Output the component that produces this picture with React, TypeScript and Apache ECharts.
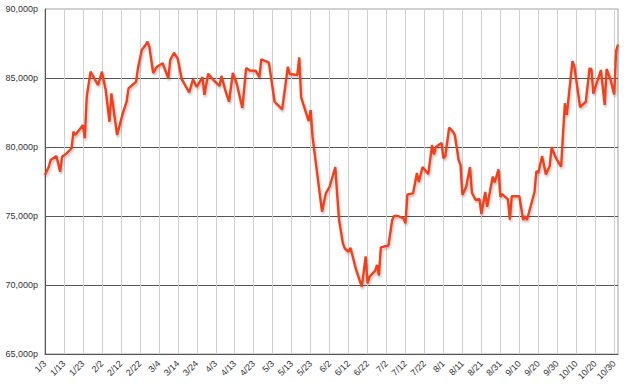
import React, { useEffect, useRef } from "react";
import * as echarts from "echarts";

// Trading dates (month/day) and prices, grouped by month
const dates: string[] = [
  "1/3", "1/5", "1/6", "1/9", "1/11", "1/12", "1/14", "1/17", "1/18", "1/19", "1/23", "1/24", "1/25", "1/27", "1/31",
  "2/2", "2/4", "2/6", "2/7", "2/10", "2/13", "2/15", "2/16", "2/20", "2/21", "2/23", "2/25", "2/26", "2/27",
  "3/1", "3/3", "3/6", "3/9", "3/10", "3/12", "3/14", "3/16", "3/20", "3/22", "3/24", "3/27", "3/28", "3/30",
  "4/2", "4/5", "4/6", "4/8", "4/10", "4/12", "4/14", "4/17", "4/19", "4/21", "4/24", "4/26", "4/27",
  "5/1", "5/4", "5/8", "5/11", "5/12", "5/16", "5/17", "5/18", "5/22", "5/23", "5/24", "5/29", "5/31",
  "6/2", "6/5", "6/6", "6/7", "6/9", "6/10", "6/12", "6/13", "6/16", "6/19", "6/21", "6/22", "6/23", "6/26", "6/27", "6/28", "6/29",
  "7/3", "7/5", "7/6", "7/8", "7/11", "7/12", "7/13", "7/16", "7/18", "7/19", "7/21", "7/24", "7/26", "7/27", "7/28", "7/31",
  "8/1", "8/2", "8/4", "8/6", "8/7", "8/9", "8/10", "8/11", "8/13", "8/15", "8/16", "8/18", "8/20", "8/21", "8/23", "8/24", "8/27", "8/28", "8/30", "8/31",
  "9/1", "9/4", "9/5", "9/6", "9/10", "9/12", "9/13", "9/14", "9/18", "9/19", "9/20", "9/22", "9/24", "9/26", "9/27", "9/29",
  "10/2", "10/4", "10/5", "10/8", "10/9", "10/12", "10/15", "10/17", "10/18", "10/19", "10/23", "10/25", "10/26", "10/28", "10/30", "10/31",
  "11/1",
];

const prices: number[] = [
  77970, 78570, 79060, 79350, 78210, 79300, 79490, 79910, 81110, 80870, 81590, 80630, 83650, 85460, 84490,
  85460, 84130, 81830, 83890, 80870, 82440, 83280, 84250, 84730, 85720, 87030, 87390, 87630, 87270,
  85360, 85820, 86070, 84980, 86300, 86830, 86380, 84940, 83950, 84910, 84350, 85070, 83770, 85310,
  84820, 84420, 85150, 84130, 83280, 85360, 84620, 82830, 85720, 85540, 85530, 85050, 86360,
  86110, 83280, 82730, 85820, 85290, 85220, 86500, 83600, 81880, 82680, 80750, 75310, 76640,
  77120, 78550, 76520, 74710, 73020, 72660, 72410, 72700, 71090, 69860, 72070, 70110, 70580, 71040, 71450, 70690, 72730,
  72860, 74710, 75000, 75000, 74830, 74460, 76560, 76640, 78120, 77460, 78550, 78040, 80140, 79460, 80000, 80290,
  79180, 79350, 81410, 81110, 80870, 79060, 78700, 76520, 77120, 78550, 76690, 76160, 76230, 75140, 76740, 75670, 77860, 77430, 78380, 76400,
  76590, 76200, 74730, 76430, 76430, 74710, 75000, 74710, 76740, 78260, 78120, 79350, 78010, 78620, 80000, 79280,
  78570, 83170, 82320, 86220, 85820, 82900, 83260, 85700, 85650, 83860, 85580, 83040, 85650, 84910, 83800, 86960,
  87430,
];

const X_START = "1/3";
const X_END = "11/1";
const X_INTERVAL = 10;
const Y_MIN = 65000;
const Y_MAX = 90000;
const Y_INTERVAL = 5000;

const MONTH_DAYS = [31, 28, 31, 30, 31, 30, 31, 31, 30, 31, 30, 31];

function dayOfYear(md: string): number {
  const [m, d] = md.split("/").map(Number);
  let n = 0;
  for (let i = 0; i < m - 1; i++) n += MONTH_DAYS[i];
  return n + d;
}

const START_DOY = dayOfYear(X_START);

function offsetOf(md: string): number {
  return dayOfYear(md) - START_DOY;
}

function labelOf(offset: number): string {
  let n = Math.round(offset) + START_DOY;
  let m = 0;
  while (m < 11 && n > MONTH_DAYS[m]) {
    n -= MONTH_DAYS[m];
    m++;
  }
  return `${m + 1}/${n}`;
}

export default function App() {
  const ref = useRef<HTMLDivElement>(null);

  useEffect(() => {
    if (!ref.current) return;
    const chart = echarts.init(ref.current, null, { renderer: "svg" });
    const n = Math.min(dates.length, prices.length);
    const data: [number, number][] = [];
    for (let i = 0; i < n; i++) data.push([offsetOf(dates[i]), prices[i]]);

    const font = "'Liberation Sans', Arial, sans-serif";

    chart.setOption({
      animation: false,
      backgroundColor: "#ffffff",
      grid: {
        left: 45,
        right: 9,
        top: 9,
        bottom: 38,
        show: true,
        borderColor: "#a0a0a0",
        borderWidth: 1,
        containLabel: false,
        outerBoundsMode: "none",
      },
      xAxis: {
        type: "value",
        min: 0,
        max: offsetOf(X_END),
        interval: X_INTERVAL,
        axisLine: { show: true, lineStyle: { color: "#555", width: 1 } },
        axisTick: { show: false },
        splitLine: { show: true, lineStyle: { color: "#d0d0d0", width: 1 } },
        axisLabel: {
          rotate: 45,
          margin: 8,
          fontSize: 9,
          color: "#333",
          fontFamily: font,
          showMaxLabel: false,
          hideOverlap: false,
          interval: 0,
          formatter: (v: number) => labelOf(v),
        },
      },
      yAxis: {
        type: "value",
        min: Y_MIN,
        max: Y_MAX,
        interval: Y_INTERVAL,
        axisLine: { show: true, lineStyle: { color: "#555", width: 1 } },
        axisTick: { show: false },
        splitLine: { show: true, showMaxLine: false, lineStyle: { color: "#555", width: 1 } },
        axisLabel: {
          margin: 7,
          fontSize: 9,
          color: "#333",
          fontFamily: font,
          formatter: (v: number) => v.toLocaleString("en-US") + "p",
        },
      },
      series: [
        {
          type: "line",
          data,
          showSymbol: false,
          symbol: "none",
          lineStyle: {
            color: "#f2401a",
            width: 2.4,
            shadowColor: "rgba(0,0,0,0.25)",
            shadowBlur: 2,
            shadowOffsetX: 1,
            shadowOffsetY: 2,
          },
          itemStyle: { color: "#f2401a" },
        },
      ],
    });

    return () => chart.dispose();
  }, []);

  return (
    <div
      ref={ref}
      style={{ position: "absolute", left: 0, top: 0, width: 627, height: 392 }}
    />
  );
}
